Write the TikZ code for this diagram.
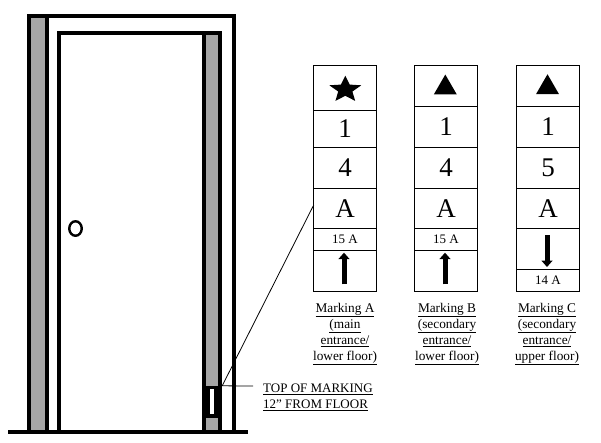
\documentclass[tikz,border=0pt]{standalone}
\usepackage{fontspec}
\setmainfont{Liberation Serif}
\usetikzlibrary{shapes.geometric, arrows.meta, positioning}
\definecolor{jambgray}{RGB}{166,166,166}

\begin{document}
\begin{tikzpicture}[
    x=1pt, y=-1pt,
    wall/.style={line width=4pt, draw=black, miter limit=10},
    jamb/.style={wall, fill=jambgray},
    cell/.style={
        rectangle, draw=black, line width=1pt,
        minimum width=62.6pt, inner sep=0pt,
        text centered, font=\fontsize{27}{27}\selectfont
    },
    smallcell/.style={cell, minimum height=22pt, font=\fontsize{13}{13}\selectfont},
    caption/.style={
        align=center, inner sep=0pt,
        font=\fontsize{13.3}{16}\selectfont
    },
    direction/.style={-{Triangle[length=6.5pt, width=11pt]}, line width=5pt},
    leader/.style={line width=0.8pt, draw=black}
]
\useasboundingbox (0,0) rectangle (601,442);

% --- door frame and jambs ---
\draw[jamb] (29,432) rectangle (47,16);
\draw[jamb] (204,432) rectangle (220,33);
\draw[wall] (47,16) -- (234,16) -- (234,432);
\draw[wall] (59,432) -- (59,33) -- (204,33);
\draw[wall] (8,432) -- (248,432);
\node[ellipse, draw=black, line width=2.4pt, minimum width=12.5pt, minimum height=14.5pt, inner sep=0pt] (knob) at (75.5,228.5) {};

% --- marking on the jamb ---
\node[rectangle, fill=black, minimum width=20pt, minimum height=32pt, inner sep=0pt] (marking) at (212,402) {};
\node[rectangle, fill=white, minimum width=4pt, minimum height=25pt, inner sep=0pt] (slot) at (212,401.5) {};

% --- marking A ---
\node[cell, minimum height=44.7pt] (topA) at (345,87.65) {};
\node[star, star points=5, star point ratio=2.25, fill=black, minimum size=33.6pt, inner sep=0pt, yscale=0.83, transform shape] (starA) at (345.3,89.6) {};
\node[cell, minimum height=37.3pt] (floorA) at (345,128.65) {1};
\node[cell, minimum height=41pt] (wingA) at (345,167.8) {4};
\node[cell, minimum height=40pt] (letterA) at (345,208.3) {A};
\node[smallcell] (roomA) at (345,239.3) {15 A};
\node[cell, minimum height=41pt] (arrowA) at (345,270.8) {};
\draw[direction] ([xshift=-1pt, yshift=-13.5pt]arrowA.center) -- ([xshift=-1pt, yshift=18.1pt]arrowA.center);

% --- marking B ---
\node[cell, minimum height=41pt] (topB) at (446,85.8) {};
\node[regular polygon, regular polygon sides=3, fill=black, minimum size=26.5pt, inner sep=0pt] (triB) at (445.3,87.8) {};
\node[cell, minimum height=41pt] (floorB) at (446,126.8) {1};
\node[cell, minimum height=41pt] (wingB) at (446,167.8) {4};
\node[cell, minimum height=40pt] (letterB) at (446,208.3) {A};
\node[smallcell] (roomB) at (446,239.3) {15 A};
\node[cell, minimum height=41pt] (arrowB) at (446,270.8) {};
\draw[direction] ([xshift=-1pt, yshift=-13.5pt]arrowB.center) -- ([xshift=-1pt, yshift=18.1pt]arrowB.center);

% --- marking C ---
\node[cell, minimum height=41pt] (topC) at (548,85.8) {};
\node[regular polygon, regular polygon sides=3, fill=black, minimum size=26.5pt, inner sep=0pt] (triC) at (547.5,87.5) {};
\node[cell, minimum height=41pt] (floorC) at (548,126.8) {1};
\node[cell, minimum height=41pt] (wingC) at (548,167.8) {5};
\node[cell, minimum height=40pt] (letterC) at (548,208.3) {A};
\node[cell, minimum height=41pt] (arrowC) at (548,248.8) {};
\node[smallcell] (roomC) at (548,280.3) {14 A};
\draw[direction] ([xshift=-1pt, yshift=13.8pt]arrowC.center) -- ([xshift=-1pt, yshift=-18.2pt]arrowC.center);

% --- captions ---
\node[caption] (captionA) at (345,334) {\underline{Marking A}\\\underline{(main}\\\underline{entrance/}\\\underline{lower floor)}};
\node[caption] (captionB) at (447,334) {\underline{Marking B}\\\underline{(secondary}\\\underline{entrance/}\\\underline{lower floor)}};
\node[caption] (captionC) at (547,334) {\underline{Marking C}\\\underline{(secondary}\\\underline{entrance/}\\\underline{upper floor)}};
\node[caption, align=left, anchor=west, font=\fontsize{13}{16}\selectfont] (toplabel) at (263,397) {\underline{TOP OF MARKING}\\\underline{12'' FROM FLOOR}};

% --- leaders ---
\coordinate (leadA) at (313.7,205);
\coordinate (leadlabel) at (253,386);
\draw[leader] (marking.north east) -- (leadA);
\draw[leader] (marking.north east) -- (leadlabel);

\end{tikzpicture}
\end{document}
